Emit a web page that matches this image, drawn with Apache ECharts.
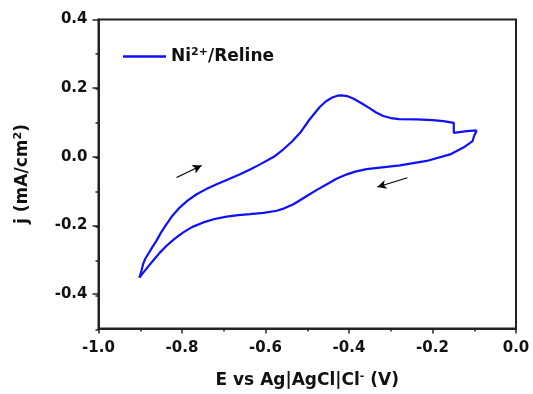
<!DOCTYPE html>
<html>
<head>
<meta charset="utf-8">
<script src="https://cdn.jsdelivr.net/npm/echarts@6/dist/echarts.min.js"></script>
<style>
  html, body { margin: 0; padding: 0; background: #fff; }
  #chart { width: 533px; height: 394px; }
</style>
</head>
<body>
<div id="chart"></div>
<script>
// cathodic scan (right -> left), lower branch
var reverseScan = [
  [-0.094, 0.077], [-0.100, 0.062], [-0.104, 0.046], [-0.126, 0.027],
  [-0.158, 0.007], [-0.214, -0.012], [-0.278, -0.025], [-0.358, -0.036],
  [-0.385, -0.043], [-0.405, -0.051], [-0.430, -0.064], [-0.453, -0.080],
  [-0.478, -0.097], [-0.501, -0.114], [-0.533, -0.138], [-0.555, -0.150],
  [-0.573, -0.157], [-0.605, -0.163], [-0.637, -0.167], [-0.665, -0.170],
  [-0.693, -0.174], [-0.722, -0.181], [-0.749, -0.191], [-0.775, -0.204],
  [-0.797, -0.220], [-0.818, -0.239], [-0.837, -0.259], [-0.853, -0.279],
  [-0.869, -0.302], [-0.886, -0.327], [-0.902, -0.352]
]
// anodic scan (left -> right), upper branch
var forwardScan = [
  [-0.902, -0.352], [-0.897, -0.331], [-0.893, -0.312], [-0.888, -0.297],
  [-0.881, -0.283], [-0.871, -0.263], [-0.861, -0.244], [-0.850, -0.220],
  [-0.837, -0.196], [-0.822, -0.170], [-0.805, -0.147], [-0.786, -0.127],
  [-0.765, -0.109], [-0.742, -0.094], [-0.717, -0.080], [-0.690, -0.066],
  [-0.661, -0.051], [-0.637, -0.037], [-0.613, -0.022], [-0.580, 0.000],
  [-0.557, 0.022], [-0.537, 0.044], [-0.517, 0.070], [-0.495, 0.108],
  [-0.470, 0.145], [-0.455, 0.162], [-0.440, 0.173], [-0.428, 0.178],
  [-0.418, 0.179], [-0.405, 0.177], [-0.390, 0.170], [-0.370, 0.156],
  [-0.350, 0.141], [-0.335, 0.129], [-0.318, 0.119], [-0.300, 0.113],
  [-0.280, 0.110], [-0.238, 0.109], [-0.200, 0.107], [-0.174, 0.104],
  [-0.149, 0.099], [-0.149, 0.070], [-0.118, 0.075], [-0.094, 0.077]
]
// scan direction arrows [from, to]
var arrows = [
  [[-0.813, -0.060], [-0.753, -0.025]],
  [[-0.260, -0.061], [-0.332, -0.088]]
]
var yTicks = [-0.4, -0.2, 0.0, 0.2, 0.4]

var labelFont = 'DejaVu Sans, Verdana, sans-serif'
var axisColor = '#222'
var textColor = '#111'

var chart = echarts.init(document.getElementById('chart'))
var plotBox = { left: 98.5, right: 17, top: 19.5, bottom: 64 }
var option = {
  animation: false,
  backgroundColor: '#fff',
  grid: [
    Object.assign({ show: true, borderColor: axisColor, borderWidth: 2, backgroundColor: 'transparent' }, plotBox),
    Object.assign({}, plotBox) // only for the minor ticks of the y axis
  ],
  legend: {
    left: 123,
    top: 47,
    padding: 0,
    icon: 'rect',
    itemWidth: 43,
    itemHeight: 2.5,
    data: ['Ni2+/Reline'],
    formatter: function () {
      return '{a|Ni}{s|2+}{a|/Reline}'
    },
    textStyle: {
      color: textColor,
      rich: {
        a: { fontSize: 17, fontWeight: 'bold', fontFamily: labelFont, color: textColor },
        s: { fontSize: 11, fontWeight: 'bold', fontFamily: labelFont, color: textColor, verticalAlign: 'bottom', padding: [0, 0, 8, 0] }
      }
    }
  },
  xAxis: [
    {
      type: 'value',
      gridIndex: 0,
      min: -1.0,
      max: 0.0,
      interval: 0.2,
      name: '{a|E vs Ag|AgCl|Cl}{s|-}{a| (V)}',
      nameLocation: 'middle',
      nameGap: 42,
      nameTextStyle: {
        rich: {
          a: { fontSize: 17, fontWeight: 'bold', fontFamily: labelFont, color: textColor },
          s: { fontSize: 11, fontWeight: 'bold', fontFamily: labelFont, color: textColor, verticalAlign: 'bottom', padding: [0, 0, 9, 0] }
        }
      },
      axisLine: { show: true, onZero: false, lineStyle: { color: axisColor, width: 2 } },
      axisTick: { show: true, inside: false, length: 5, lineStyle: { color: axisColor, width: 1.5 } },
      minorTick: { show: true, splitNumber: 2, length: 3, lineStyle: { color: axisColor, width: 1.5 } },
      splitLine: { show: false },
      axisLabel: {
        margin: 12,
        fontSize: 15,
        fontWeight: 'bold',
        fontFamily: labelFont,
        color: textColor,
        formatter: function (v) { return v.toFixed(1) }
      }
    },
    {
      type: 'value',
      gridIndex: 1,
      min: -1.0,
      max: 0.0,
      show: false
    }
  ],
  yAxis: [
    {
      type: 'value',
      gridIndex: 0,
      min: -0.5,
      max: 0.4,
      interval: 0.1,
      name: '{a|j (mA/cm}{s|2}{a|)}',
      nameLocation: 'middle',
      nameGap: 66,
      nameRotate: 90,
      nameTextStyle: {
        rich: {
          a: { fontSize: 17, fontWeight: 'bold', fontFamily: labelFont, color: textColor },
          s: { fontSize: 11, fontWeight: 'bold', fontFamily: labelFont, color: textColor, verticalAlign: 'bottom', padding: [0, 0, 9, 0] }
        }
      },
      axisLine: { show: true, onZero: false, lineStyle: { color: axisColor, width: 2 } },
      axisTick: {
        show: true,
        inside: false,
        length: 6,
        lineStyle: { color: axisColor, width: 1.5 },
        customValues: yTicks
      },
      splitLine: { show: false },
      axisLabel: {
        margin: 11,
        fontSize: 15,
        fontWeight: 'bold',
        fontFamily: labelFont,
        color: textColor,
        customValues: yTicks,
        formatter: function (v) { return v.toFixed(1) }
      }
    },
    {
      type: 'value',
      gridIndex: 1,
      position: 'left',
      min: -0.5,
      max: 0.4,
      interval: 0.1,
      axisLine: { show: false, onZero: false },
      axisTick: { show: true, inside: false, length: 3, lineStyle: { color: axisColor, width: 1.5 } },
      axisLabel: { show: false },
      splitLine: { show: false }
    }
  ],
  series: [
    {
      name: 'Ni2+/Reline',
      type: 'line',
      xAxisIndex: 0,
      yAxisIndex: 0,
      data: reverseScan.concat(forwardScan.slice(1)),
      showSymbol: false,
      symbol: 'none',
      smooth: false,
      lineStyle: { color: '#1010f5', width: 2.2 },
      itemStyle: { color: '#1010f5' },
      markLine: {
        silent: true,
        symbol: ['none', 'arrow'],
        symbolSize: [7, 9],
        label: { show: false },
        lineStyle: { color: '#000', width: 1.2, type: 'solid' },
        data: arrows.map(function (a) {
          return [{ coord: a[0] }, { coord: a[1] }]
        })
      }
    }
  ]
}
chart.setOption(option)
</script>
</body>
</html>
